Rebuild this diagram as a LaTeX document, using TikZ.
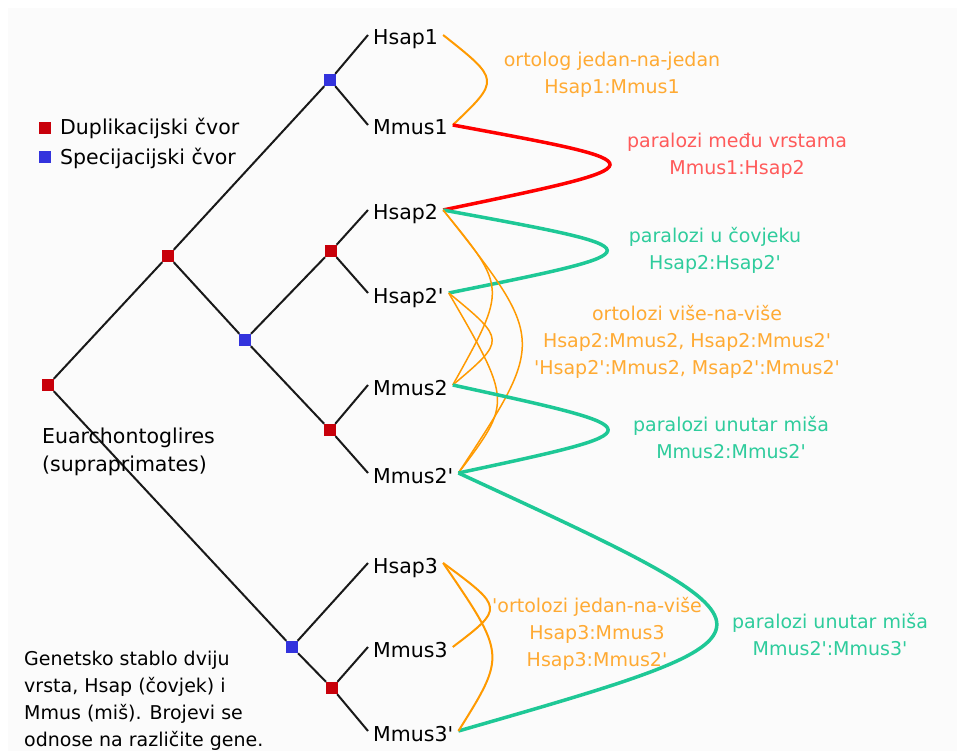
\documentclass[tikz,border=0pt]{standalone}
\usepackage{fontspec}
\setmainfont{DejaVu Sans}
\newcommand{\ap}{\textquotesingle}
\definecolor{dupred}{HTML}{C8000A}
\definecolor{specblue}{HTML}{3333DD}
\definecolor{orthoorange}{HTML}{FF9A00}
\definecolor{paragreen}{HTML}{1EC896}
\definecolor{parared}{HTML}{FF0000}
\definecolor{orthotext}{HTML}{FFAA33}
\definecolor{redtext}{HTML}{FF5A5A}
\definecolor{greentext}{HTML}{2ECC9C}
\definecolor{paper}{HTML}{FBFBFB}
\begin{document}
\begin{tikzpicture}[x=1pt,y=-1pt,
  dupnode/.style={fill=dupred, minimum size=12pt, inner sep=0pt},
  specnode/.style={fill=specblue, minimum size=12pt, inner sep=0pt},
  branch/.style={draw=black!90, line width=2pt},
  leaf/.style={anchor=west, inner xsep=5pt, inner ysep=0pt, text height=20pt,
    text depth=0pt, font=\fontsize{20.5}{24}\selectfont},
  plain/.style={inner sep=0pt, anchor=base west},
  pairlabel/.style={inner sep=0pt, anchor=base},
  ortholine/.style={draw=orthoorange, line width=2pt},
  orthothin/.style={draw=orthoorange, line width=1.5pt},
  paraline/.style={draw=paragreen, line width=3.5pt},
  crossline/.style={draw=parared, line width=3.5pt},
]
\useasboundingbox (0,0) rectangle (957,751);
\fill[white] (0,0) rectangle (957,751);
\fill[paper] (8,8) rectangle (957,751);

% legend
\node[dupnode] (legdup) at (45,128) {};
\node[specnode] (legspec) at (45,157) {};
\node[plain, font=\fontsize{20.5}{24}\selectfont] (legduptext) at (60,135) {Duplikacijski čvor};
\node[plain, font=\fontsize{20.5}{24}\selectfont] (legspectext) at (60,165) {Specijacijski čvor};

% inner nodes of the gene tree
\node[dupnode] (r0) at (48,385) {};
\node[dupnode] (d1) at (168,256) {};
\node[specnode] (s1) at (330,80) {};
\node[specnode] (s2) at (245,340) {};
\node[dupnode] (d2) at (331,251) {};
\node[dupnode] (d3) at (330,430) {};
\node[specnode] (s3) at (292,647) {};
\node[dupnode] (d4) at (332,688) {};

% leaves
\node[leaf] (hsap1) at (368,35) {Hsap1};
\node[leaf] (mmus1) at (368,125) {Mmus1};
\node[leaf] (hsap2) at (368,210) {Hsap2};
\node[leaf] (hsap2p) at (368,293) {Hsap2\ap};
\node[leaf] (mmus2) at (368,385) {Mmus2};
\node[leaf] (mmus2p) at (368,473) {Mmus2\ap};
\node[leaf] (hsap3) at (368,563) {Hsap3};
\node[leaf] (mmus3) at (368,647) {Mmus3};
\node[leaf] (mmus3p) at (368,731) {Mmus3\ap};

% branches
\draw[branch] (r0) -- (d1);
\draw[branch] (r0) -- (s3);
\draw[branch] (d1) -- (s1);
\draw[branch] (d1) -- (s2);
\draw[branch] (s1) -- (hsap1.west);
\draw[branch] (s1) -- (mmus1.west);
\draw[branch] (s2) -- (d2);
\draw[branch] (s2) -- (d3);
\draw[branch] (d2) -- (hsap2.west);
\draw[branch] (d2) -- (hsap2p.west);
\draw[branch] (d3) -- (mmus2.west);
\draw[branch] (d3) -- (mmus2p.west);
\draw[branch] (s3) -- (hsap3.west);
\draw[branch] (s3) -- (d4);
\draw[branch] (d4) -- (mmus3.west);
\draw[branch] (d4) -- (mmus3p.west);

% tree captions
\node[plain, font=\fontsize{20.5}{28.5}\selectfont] (clade) at (42,443)
  {\begin{tabular}[t]{@{}l@{}}Euarchontoglires\\(supraprimates)\end{tabular}};
\node[plain, font=\fontsize{19}{27}\selectfont] (caption) at (24,665)
  {\begin{tabular}[t]{@{}l@{}}Genetsko stablo dviju\\vrsta, Hsap (čovjek) i\\Mmus (miš). Brojevi se\\odnose na različite gene.\end{tabular}};

% homology relations
\draw[ortholine] (hsap1.east) .. controls (500,80) .. (mmus1.east);
\draw[crossline] (mmus1.east) .. controls (664,164) .. (hsap2.east);
\draw[paraline] (hsap2.east) .. controls (661,250) .. (hsap2p.east);
\draw[orthothin] (hsap2.east) .. controls (507,288) .. (mmus2.east);
\draw[orthothin] (hsap2.east) .. controls (546,340) .. (mmus2p.east);
\draw[orthothin] (hsap2p.east) .. controls (506,340) .. (mmus2.east);
\draw[orthothin] (hsap2p.east) .. controls (512,402) .. (mmus2p.east);
\draw[paraline] (mmus2.east) .. controls (659,430) .. (mmus2p.east);
\draw[paraline] (mmus2p.east) .. controls (803,632) .. (mmus3p.east);
\draw[ortholine] (hsap3.east) .. controls (504,608) .. (mmus3.east);
\draw[ortholine] (hsap3.east) .. controls (506,655) .. (mmus3p.east);

% relation labels
\begin{scope}[font=\fontsize{19}{27}\selectfont]
\node[pairlabel, text=orthotext] (lab1) at (612,67)
  {\begin{tabular}[t]{@{}c@{}}ortolog jedan-na-jedan\\Hsap1:Mmus1\end{tabular}};
\node[pairlabel, text=redtext] (lab2) at (737,148)
  {\begin{tabular}[t]{@{}c@{}}paralozi među vrstama\\Mmus1:Hsap2\end{tabular}};
\node[pairlabel, text=greentext] (lab3) at (715,242)
  {\begin{tabular}[t]{@{}c@{}}paralozi u čovjeku\\Hsap2:Hsap2\ap\end{tabular}};
\node[pairlabel, text=orthotext] (lab4) at (687,320)
  {\begin{tabular}[t]{@{}c@{}}ortolozi više-na-više\\Hsap2:Mmus2, Hsap2:Mmus2\ap\\\ap Hsap2\ap:Mmus2, Msap2\ap:Mmus2\ap\end{tabular}};
\node[pairlabel, text=greentext] (lab5) at (731,431)
  {\begin{tabular}[t]{@{}c@{}}paralozi unutar miša\\Mmus2:Mmus2\ap\end{tabular}};
\node[pairlabel, text=orthotext] (lab6) at (597,612)
  {\begin{tabular}[t]{@{}c@{}}\ap ortolozi jedan-na-više\\Hsap3:Mmus3\\Hsap3:Mmus2\ap\end{tabular}};
\node[pairlabel, text=greentext] (lab7) at (830,628)
  {\begin{tabular}[t]{@{}c@{}}paralozi unutar miša\\Mmus2\ap:Mmus3\ap\end{tabular}};
\end{scope}
\end{tikzpicture}
\end{document}
